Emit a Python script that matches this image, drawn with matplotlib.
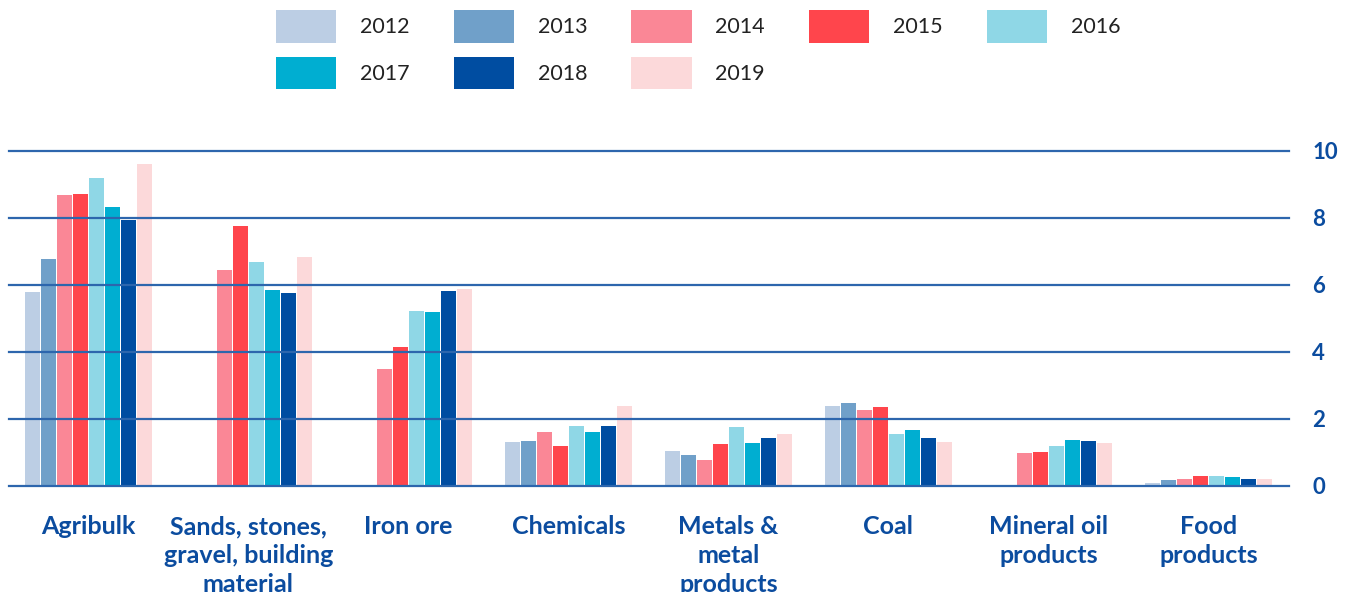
import matplotlib
matplotlib.use("Agg")
import matplotlib.pyplot as plt
import numpy as np

categories = ["Agribulk", "Sands, stones,\ngravel, building\nmaterial", "Iron ore",
              "Chemicals", "Metals &\nmetal\nproducts", "Coal",
              "Mineral oil\nproducts", "Food\nproducts"]
years = ["2012", "2013", "2014", "2015", "2016", "2017", "2018", "2019"]
v2012 = [5.79, 0, 0, 1.31, 1.04, 2.39, 0, 0.09]
v2013 = [6.78, 0, 0, 1.34, 0.93, 2.48, 0, 0.18]
v2014 = [8.69, 6.45, 3.49, 1.61, 0.78, 2.27, 0.99, 0.21]
v2015 = [8.72, 7.76, 4.15, 1.19, 1.25, 2.36, 1.01, 0.30]
v2016 = [9.19, 6.69, 5.22, 1.79, 1.76, 1.55, 1.19, 0.30]
v2017 = [8.33, 5.85, 5.19, 1.61, 1.28, 1.67, 1.37, 0.27]
v2018 = [7.94, 5.76, 5.82, 1.79, 1.43, 1.43, 1.34, 0.21]
v2019 = [9.61, 6.84, 5.88, 2.39, 1.55, 1.31, 1.28, 0.21]
series = [v2012, v2013, v2014, v2015, v2016, v2017, v2018, v2019]
colors = ["#bccee4", "#70a0c9", "#fa8796", "#ff454c", "#8fd7e6", "#00aed1", "#004da1", "#fcd9da"]
yticks = [0, 2, 4, 6, 8, 10]

blue = "#0b4c9f"
W, H = 1354, 592
fig = plt.figure(figsize=(W / 100, H / 100), dpi=100)
ax = fig.add_axes([8.5 / W, 106 / H, 1280 / W, 335.3 / H])

x = np.arange(len(categories))
bw = 0.1
bars = []
for i, (vals, c, yr) in enumerate(zip(series, colors, years)):
    bars.append(ax.bar(x - 0.35 + i * bw, vals, width=bw * 0.94, color=c, label=yr, zorder=1))

ax.set_xlim(-0.5, len(categories) - 0.5)
ax.set_ylim(0, 10)
ax.set_yticks(yticks)
ax.yaxis.tick_right()
ax.tick_params(axis="y", length=0, pad=17, labelsize=16, labelcolor=blue)
for lab in ax.get_yticklabels():
    lab.set_fontweight("bold")
    lab.set_fontfamily("Lato")
ax.set_xticks(x)
ax.set_xticklabels(categories, fontsize=18, fontweight="bold", color=blue,
                   fontfamily="Lato", linespacing=1.3)
ax.tick_params(axis="x", length=0, pad=21)
ax.grid(axis="y", color="#2d66ad", linewidth=1.6, zorder=3)
ax.set_axisbelow(False)
for gl in ax.get_ygridlines():
    gl.set_clip_on(False)
    gl.set_zorder(3)
for s in ax.spines.values():
    s.set_visible(False)

# row-major legend order for 5 columns
order = [0, 5, 1, 6, 2, 7, 3, 4]
fig.legend([bars[i] for i in order], [years[i] for i in order],
           loc="upper left", bbox_to_anchor=(276 / W, 1 - 10 / H), ncol=5, frameon=False,
           prop={"family": "Lato", "weight": "normal", "size": 15.5},
           handlelength=2.8, handleheight=1.95, handletextpad=1.1,
           columnspacing=2.05, labelspacing=0.65, labelcolor="#222222",
           borderaxespad=0, borderpad=0)

fig.savefig("out.png", dpi=100)
